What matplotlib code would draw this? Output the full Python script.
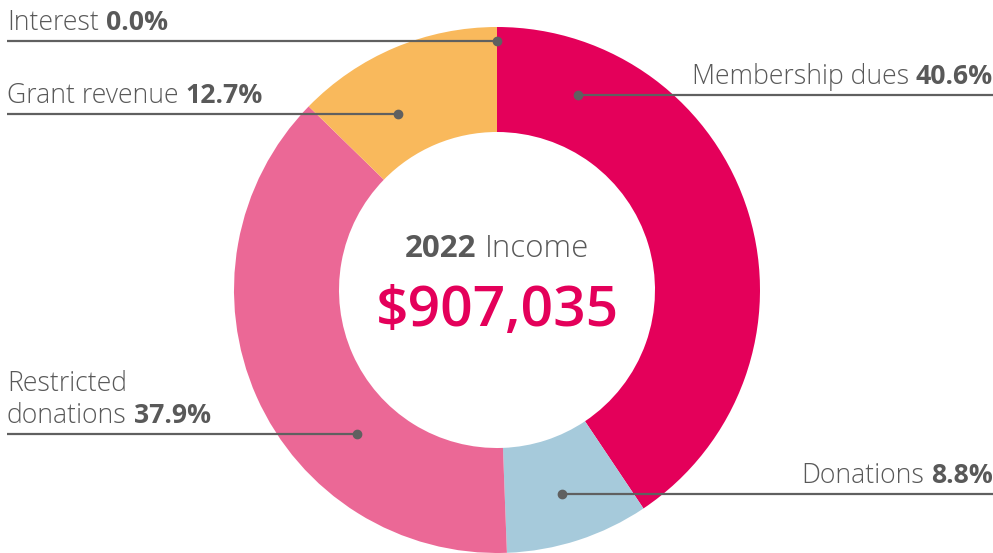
import numpy as np
import matplotlib.pyplot as plt

# data
categories = ["Membership dues", "Donations", "Restricted\ndonations", "Grant revenue", "Interest"]
shares = [40.6, 8.8, 37.9, 12.7, 0.0]
colors = ["#E4005A", "#A6CADB", "#EB6896", "#F9B95C", "#F9B95C"]
total_income = 907035
year = 2022

W, H = 993, 553
CX, CY = 497, 290          # donut centre in pixel coords (y down)
R_OUT, R_IN = 263, 158

# label layout: side (+1 right, -1 left), line y (px), dot radius
label_side = [1, 1, -1, -1, -1]
label_line_y = [95, 494, 434, 114, 41]
dot_radius = [211, 214, 201, 202, 249]

TXT = "#595959"
LINE = "#606060"
FAMILY = "Open Sans"

fig = plt.figure(figsize=(W / 100, H / 100), dpi=100)
ax = fig.add_axes([0, 0, 1, 1])

def y(py):
    return H - py

ax.pie(shares, colors=colors, startangle=90, counterclock=False,
       radius=R_OUT, center=(CX, y(CY)),
       wedgeprops=dict(width=R_OUT - R_IN, linewidth=0))
ax.set_xlim(0, W)
ax.set_ylim(0, H)
ax.set_aspect("auto")
ax.axis("off")

fig.canvas.draw()
renderer = fig.canvas.get_renderer()

def two_part(x, py, light, bold, side, size=19.2):
    # light text then bold text on one baseline
    if side > 0:
        t = ax.text(x, y(py), bold, ha="right", va="baseline", fontsize=size,
                    fontweight="bold", color=TXT, family=FAMILY)
        bb = t.get_window_extent(renderer)
        ax.text(bb.x0 - 7, y(py), light, ha="right", va="baseline", fontsize=size,
                fontweight="light", color=TXT, family=FAMILY)
    else:
        t = ax.text(x, y(py), light, ha="left", va="baseline", fontsize=size,
                    fontweight="light", color=TXT, family=FAMILY)
        bb = t.get_window_extent(renderer)
        ax.text(bb.x1 + 7, y(py), bold, ha="left", va="baseline", fontsize=size,
                fontweight="bold", color=TXT, family=FAMILY)

for name, val, side, ly, rd in zip(categories, shares, label_side, label_line_y, dot_radius):
    dy = ly - CY
    dx = np.sqrt(max(rd ** 2 - dy ** 2, 0))
    dot_x = CX + side * dx
    x_end = W if side > 0 else 7
    ax.plot([dot_x, x_end], [y(ly), y(ly)], color=LINE, lw=1.6, solid_capstyle="butt")
    ax.plot(dot_x, y(ly), "o", color=LINE, ms=6)
    pct = f"{val:.1f}%"
    lines = name.split("\n")
    base = ly - 11
    if side > 0:
        two_part(W, base, lines[-1], pct, side)
    else:
        two_part(7, base, lines[-1], pct, side)
    for i, extra in enumerate(reversed(lines[:-1])):
        ax.text(7, y(base - 32 * (i + 1)), extra, ha="left", va="baseline",
                fontsize=19.2, fontweight="light", color=TXT, family=FAMILY)

# centre text
t1 = ax.text(0, y(257), f"{year}", ha="left", va="baseline", fontsize=22.5,
             fontweight="bold", color=TXT, family=FAMILY)
t2 = ax.text(0, y(257), "Income", ha="left", va="baseline", fontsize=22.5,
             fontweight="light", color=TXT, family=FAMILY)
w1 = t1.get_window_extent(renderer).width
w2 = t2.get_window_extent(renderer).width
gap = 8
x0 = CX - (w1 + gap + w2) / 2
t1.set_x(x0)
t2.set_x(x0 + w1 + gap)

ax.text(CX, y(326), f"${total_income:,}", ha="center", va="baseline", fontsize=41,
        fontweight="semibold", color="#E4005A", family=FAMILY)

fig.savefig("out.png", dpi=100)
